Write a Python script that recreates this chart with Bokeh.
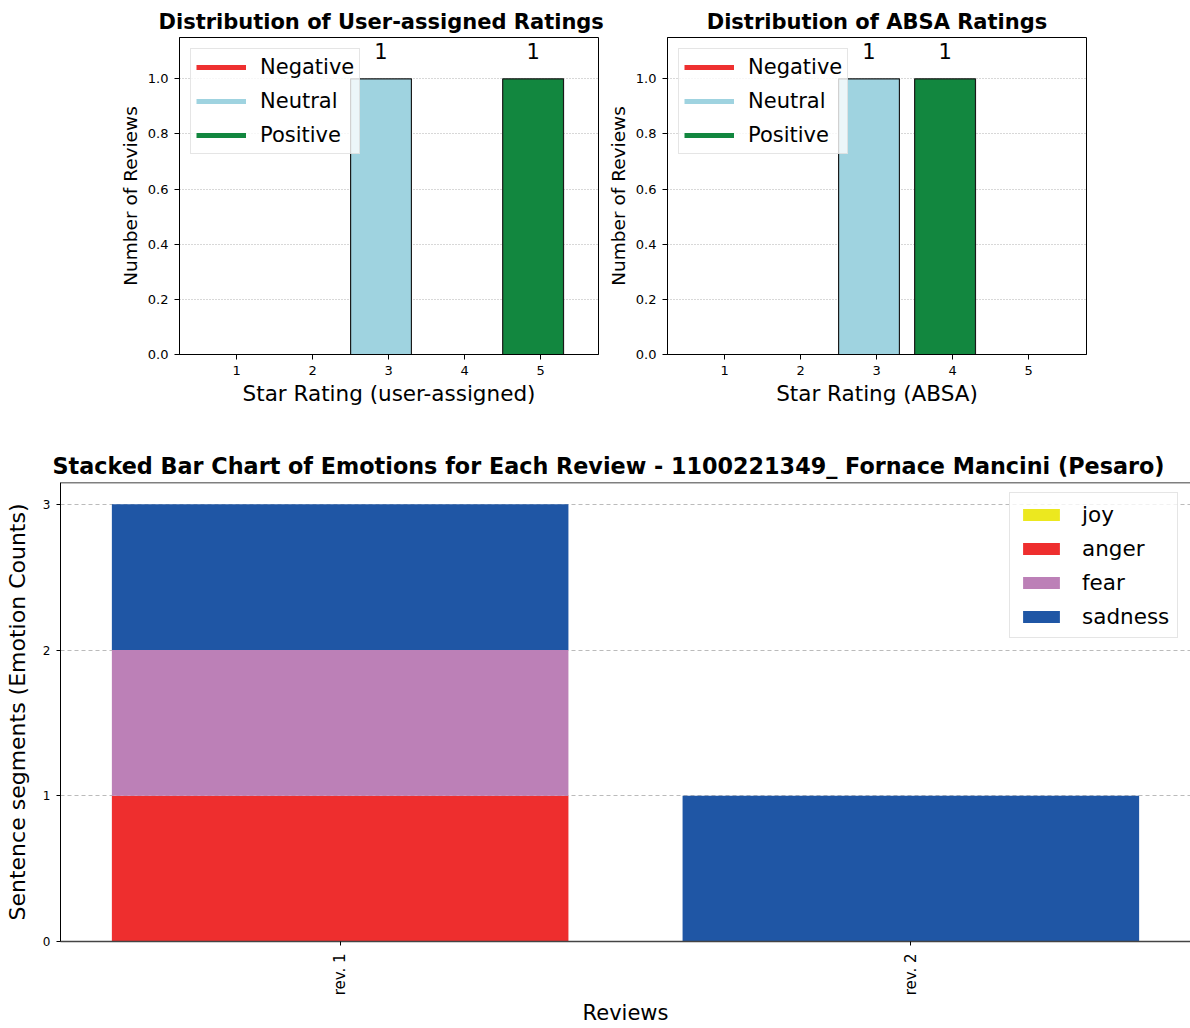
import math
import numpy as np
from bokeh.plotting import figure
from bokeh.models import (ColumnDataSource, FixedTicker, PrintfTickFormatter,
                          Legend, LegendItem, Span)
from bokeh.layouts import column, row
from bokeh.embed import file_html
from bokeh.resources import INLINE
from bokeh.core.properties import value

FONT = "DejaVu Sans"

# ---------------- data ----------------
star_ratings = [1, 2, 3, 4, 5]
user_counts = [0, 0, 1, 0, 1]
absa_counts = [0, 0, 1, 1, 0]
sentiment_of_star = ["Negative", "Negative", "Neutral", "Positive", "Positive"]
sentiments = ["Negative", "Neutral", "Positive"]
sentiment_colors = {"Negative": "#ee3030", "Neutral": "#9fd3e0", "Positive": "#12873f"}
rating_y_ticks = [0.0, 0.2, 0.4, 0.6, 0.8, 1.0]

reviews = ["rev. 1", "rev. 2"]
emotions = ["joy", "anger", "fear", "sadness"]
joy = [0, 0]
anger = [1, 0]
fear = [1, 0]
sadness = [1, 1]
emotion_colors = ["#ece81f", "#ee2e2e", "#bc80b7", "#1f56a5"]
emotion_y_ticks = [0, 1, 2, 3]


def rating_fig(title, xlabel, counts, width, left, right, title_align, title_offset):
    p = figure(width=width, height=420, x_range=(0.25, 5.76), y_range=(0, 1.15),
               output_backend="svg", toolbar_location=None,
               min_border_left=left, min_border_right=right,
               min_border_top=37, min_border_bottom=66)
    p.title.text = title
    p.title.align = title_align
    p.title.offset = title_offset
    p.title.text_font = FONT
    p.title.text_font_size = "21px"
    p.title.text_font_style = "bold"
    p.title.text_color = "black"
    p.title.standoff = 7
    p.outline_line_color = "black"
    p.outline_line_width = 1

    src = ColumnDataSource(dict(
        left=[s - 0.5 for s in star_ratings],
        right=[s + 0.3 for s in star_ratings],
        top=counts,
        color=[sentiment_colors[s] for s in sentiment_of_star],
    ))
    p.quad(left="left", right="right", bottom=0, top="top", fill_color="color",
           line_color="#1a1a1a", line_width=1.2, source=src)

    lx = [s - 0.1 for s, c in zip(star_ratings, counts) if c > 0]
    ly = [c for c in counts if c > 0]
    lt = [str(c) for c in counts if c > 0]
    p.text(x=lx, y=ly, text=lt, text_font=value(FONT), text_font_size="21px",
           text_align="center", text_baseline="alphabetic", y_offset=-28,
           text_color="black")

    nan = float("nan")
    rs = [p.line(x=[nan], y=[nan], line_color=sentiment_colors[s], line_width=5)
          for s in sentiments]
    leg = Legend(items=[LegendItem(label=s, renderers=[r]) for s, r in zip(sentiments, rs)],
                 location="top_left", margin=11, padding=5, spacing=8,
                 glyph_width=50, glyph_height=26, label_height=26, label_standoff=14,
                 label_text_font=FONT, label_text_font_size="21px",
                 label_text_color="black",
                 border_line_color="#cccccc", background_fill_alpha=0.8)
    p.add_layout(leg)

    p.xaxis.ticker = FixedTicker(ticks=star_ratings)
    p.yaxis.ticker = FixedTicker(ticks=rating_y_ticks)
    p.yaxis.formatter = PrintfTickFormatter(format="%.1f")
    p.axis.minor_tick_line_color = None
    p.axis.major_tick_in = 0
    p.axis.major_tick_out = 5
    p.axis.major_label_standoff = 6
    p.axis.major_label_text_font = FONT
    p.axis.major_label_text_font_size = "13px"
    p.axis.major_label_text_color = "black"
    p.axis.axis_line_color = "black"
    p.axis.major_tick_line_color = "black"
    p.xaxis.axis_label = xlabel
    p.yaxis.axis_label = "Number of Reviews"
    p.axis.axis_label_text_font = FONT
    p.axis.axis_label_text_font_style = "normal"
    p.axis.axis_label_text_color = "black"
    p.xaxis.axis_label_text_font_size = "21.5px"
    p.yaxis.axis_label_text_font_size = "18.5px"
    p.xaxis.axis_label_standoff = 3
    p.yaxis.axis_label_standoff = 4
    p.xgrid.visible = False
    p.ygrid.ticker = FixedTicker(ticks=rating_y_ticks)
    p.ygrid.grid_line_color = "#b0b0b0"
    p.ygrid.grid_line_dash = "1 2"
    return p


p1 = rating_fig("Distribution of User-assigned Ratings", "Star Rating (user-assigned)",
                user_counts, 604, 179, 6, "left", -21)
p2 = rating_fig("Distribution of ABSA Ratings", "Star Rating (ABSA)",
                absa_counts, 586, 62, 104, "center", 0)

# ---------------- stacked emotions ----------------
p3 = figure(width=1190, height=608, x_range=(-0.49, 1.49), y_range=(0, 3.15),
            output_backend="svg", toolbar_location=None,
            min_border_left=60, min_border_right=0, min_border_top=62, min_border_bottom=84)
p3.title.text = "Stacked Bar Chart of Emotions for Each Review - 1100221349_ Fornace Mancini (Pesaro)"
p3.title.align = "left"
p3.title.offset = -8
p3.title.text_font = FONT
p3.title.text_font_size = "22.3px"
p3.title.text_font_style = "bold"
p3.title.text_color = "black"
p3.title.standoff = 7
p3.outline_line_color = None

xpos = [int(i) for i in np.arange(len(reviews))]
src3 = ColumnDataSource(dict(x=xpos, joy=joy, anger=anger, fear=fear, sadness=sadness))
rs3 = p3.vbar_stack(emotions, x="x", width=0.8, color=emotion_colors, line_color=None,
                    source=src3)
p3.add_layout(Span(location=3.15, dimension="width", line_color="black", line_width=1.5))

leg3 = Legend(items=[LegendItem(label=e, renderers=[r]) for e, r in zip(emotions, rs3)],
              location=(949, 303), padding=8, spacing=8,
              glyph_width=46, glyph_height=15, label_height=26, label_standoff=18,
              label_text_font=FONT, label_text_font_size="21.5px",
              label_text_color="black",
              border_line_color="#cccccc", background_fill_alpha=0.8)
p3.add_layout(leg3)

p3.xaxis.ticker = FixedTicker(ticks=xpos)
p3.xaxis.major_label_overrides = {i: r for i, r in zip(xpos, reviews)}
p3.xaxis.major_label_orientation = math.pi / 2
p3.yaxis.ticker = FixedTicker(ticks=emotion_y_ticks)
p3.axis.minor_tick_line_color = None
p3.axis.major_tick_in = 0
p3.axis.major_tick_out = 4
p3.yaxis.major_label_standoff = 6
p3.xaxis.major_label_standoff = 8
p3.axis.major_label_text_font = FONT
p3.xaxis.major_label_text_font_size = "15px"
p3.yaxis.major_label_text_font_size = "12px"
p3.axis.major_label_text_color = "black"
p3.yaxis.axis_line_color = "black"
p3.xaxis.axis_line_color = "#444444"
p3.xaxis.axis_line_width = 1.5
p3.xaxis.axis_label = "Reviews"
p3.yaxis.axis_label = "Sentence segments (Emotion Counts)"
p3.axis.axis_label_text_font = FONT
p3.axis.axis_label_text_font_style = "normal"
p3.axis.axis_label_text_color = "black"
p3.xaxis.axis_label_text_font_size = "21px"
p3.yaxis.axis_label_text_font_size = "22px"
p3.xaxis.axis_label_standoff = 3
p3.yaxis.axis_label_standoff = 10
p3.xgrid.visible = False
p3.ygrid.ticker = FixedTicker(ticks=emotion_y_ticks)
p3.ygrid.grid_line_color = "#bbbbbb"
p3.ygrid.grid_line_dash = "4 3"

layout = column(row(p1, p2), p3)
open("out.html", "w").write(file_html(layout, INLINE, "Ratings and Emotions"))
